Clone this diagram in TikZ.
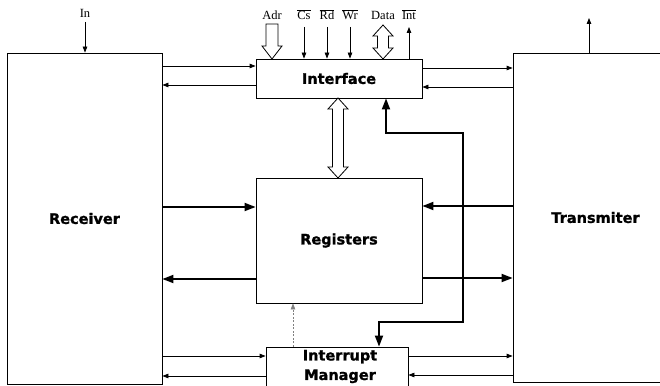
\documentclass[tikz,border=0pt]{standalone}
\usepackage{fontspec}
\setmainfont{Liberation Serif}
\newfontfamily\blockfont{DejaVu Sans Bold}[FakeBold=1.2]
\usetikzlibrary{arrows.meta}
\tikzset{
  block/.style={draw, line width=0.8pt, fill=white, inner sep=0pt, align=center,
    font=\blockfont\fontsize{14.5}{21}\selectfont},
  blocktext/.style={inner sep=0pt, align=center, font=\blockfont\fontsize{14.5}{19.5}\selectfont},
  thinarr/.style={draw, line width=0.8pt, -{Triangle[length=6pt,width=4.5pt]}},
  thickarr/.style={draw, line width=1.8pt, -{Triangle[length=11pt,width=8pt]}},
  thickboth/.style={draw, line width=1.8pt, {Triangle[length=11pt,width=8pt]}-{Triangle[length=11pt,width=8pt]}},
  dotarr/.style={draw, gray, line width=0.6pt, dash pattern=on 2pt off 1.5pt, -{Triangle[length=6pt,width=4.5pt]}},
  hollow/.style={draw, line width=0.8pt, fill=white},
  siglabel/.style={anchor=base, inner sep=0pt, font=\fontsize{12.5}{14}\selectfont},
}
\newcommand\dblhollow[3]{% x, top, bottom
  \draw[hollow] (#1,#2) -- (#1+10,#2+11) -- (#1+5.5,#2+11) -- (#1+5.5,#3-11) -- (#1+10,#3-11)
    -- (#1,#3) -- (#1-10,#3-11) -- (#1-5.5,#3-11) -- (#1-5.5,#2+11) -- (#1-10,#2+11) -- cycle;}
\begin{document}
\begin{tikzpicture}[x=1pt,y=-1pt]
\useasboundingbox (0,0) rectangle (660,385);
\clip (0,0) rectangle (660,385);
\fill[white] (0,0) rectangle (660,385);

% blocks
\node[block, minimum width=155, minimum height=331] (rx) at (84.5,218.5) {Receiver};
\node[block, minimum width=165, minimum height=329] (tx) at (595.5,217.5) {Transmiter};
\node[block, minimum width=166, minimum height=39] (if) at (339,78.5) {Interface};
\node[block, minimum width=166, minimum height=125] (reg) at (339,240.5) {Registers};
\node[block, minimum width=142, minimum height=45] (im) at (337,369.5) {};
\node[blocktext] (imL) at (340,366.5) {Interrupt\\Manager};

% top signals
\coordinate (inS) at (85,22);
\node[siglabel] (inL) at (85,18) {In};
\draw[thinarr] (inS) -- (inS |- rx.north);

\node[siglabel] (adrL) at (272,20) {Adr};
\draw[hollow] (266,24) -- (278,24) -- (278,46) -- (282,46) -- (272,59) -- (262,46) -- (266,46) -- cycle;

\node[siglabel] (csL) at (304,20) {$\overline{\mbox{Cs}}$};
\coordinate (csS) at (304,27);
\draw[thinarr] (csS) -- (csS |- if.north);

\node[siglabel] (rdL) at (327,20) {$\overline{\mbox{Rd}}$};
\coordinate (rdS) at (327,27);
\draw[thinarr] (rdS) -- (rdS |- if.north);

\node[siglabel] (wrL) at (350,20) {$\overline{\mbox{Wr}}$};
\coordinate (wrS) at (350,27);
\draw[thinarr] (wrS) -- (wrS |- if.north);

\node[siglabel] (dataL) at (383,20) {Data};
\dblhollow{383}{25}{59}

\node[siglabel] (intL) at (409,20) {$\overline{\mbox{Int}}$};
\coordinate (intE) at (409,27);
\draw[thinarr] (intE |- if.north) -- (intE);

\coordinate (txOut) at (589,18);
\draw[thinarr] (txOut |- tx.north) -- (txOut);

% interface <-> registers
\dblhollow{338}{98}{178}

% thin horizontal links
\draw[thinarr] (rx.east |- 0,66) -- (if.west |- 0,66);
\draw[thinarr] (if.west |- 0,85) -- (rx.east |- 0,85);
\draw[thinarr] (if.east |- 0,68) -- (tx.west |- 0,68);
\draw[thinarr] (tx.west |- 0,87) -- (if.east |- 0,87);

\draw[thinarr] (rx.east |- 0,356) -- (im.west |- 0,356);
\draw[thinarr] (im.west |- 0,376) -- (rx.east |- 0,376);
\draw[thinarr] (im.east |- 0,356) -- (tx.west |- 0,356);
\draw[thinarr] (tx.west |- 0,375) -- (im.east |- 0,375);

% thick horizontal links
\draw[thickarr] (rx.east |- 0,207) -- (reg.west |- 0,207);
\draw[thickarr] (tx.west |- 0,206) -- (reg.east |- 0,206);
\draw[thickarr] (reg.west |- 0,279) -- (rx.east |- 0,279);
\draw[thickarr] (reg.east |- 0,278) -- (tx.west |- 0,278);

% thick interface <-> interrupt manager
\draw[thickboth] (386,0 |- if.south) -- (386,133) -| (463,322) -| (379,0 |- im.north);

% interrupt manager -> registers (dotted)
\draw[dotarr] (293,0 |- im.north) -- (293,0 |- reg.south);
\end{tikzpicture}
\end{document}
